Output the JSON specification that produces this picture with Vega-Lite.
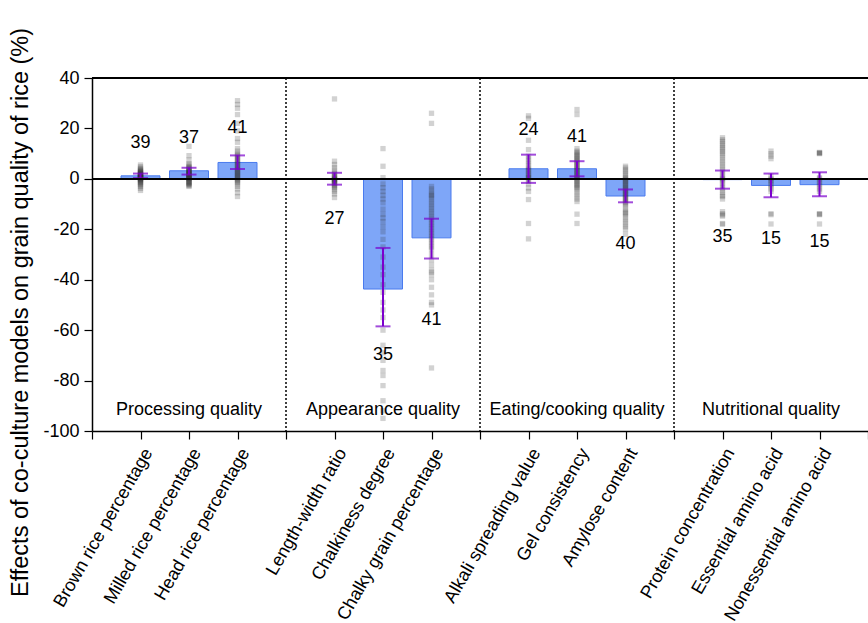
{
  "$schema": "https://vega.github.io/schema/vega-lite/v6.json",
  "autosize": {"type": "none"},
  "padding": {"left": 92, "top": 78, "right": 0, "bottom": 192},
  "width": 776,
  "height": 353,
  "background": "white",
  "config": {
    "view": {"stroke": null},
    "font": "Liberation Sans",
    "axis": {"grid": false, "domainColor": "#000", "tickColor": "#000", "labelColor": "#000", "titleColor": "#000", "labelFont": "Liberation Sans", "titleFont": "Liberation Sans", "domainWidth": 1.5, "tickWidth": 1.2}
  },
  "datasets": {
    "bars": [
      {"cat": "Brown rice percentage", "mean": 1.2, "lo": 0.3, "hi": 2.1, "n": 39, "ly": 14.3},
      {"cat": "Milled rice percentage", "mean": 3.2, "lo": 1.7, "hi": 4.4, "n": 37, "ly": 16.3},
      {"cat": "Head rice percentage", "mean": 6.5, "lo": 3.9, "hi": 9.3, "n": 41, "ly": 20.2},
      {"cat": "Length-width ratio", "mean": 0.0, "lo": -2.3, "hi": 2.4, "n": 27, "ly": -15.9},
      {"cat": "Chalkiness degree", "mean": -43.7, "lo": -58.5, "hi": -27.4, "n": 35, "ly": -70},
      {"cat": "Chalky grain percentage", "mean": -23.4, "lo": -31.6, "hi": -15.8, "n": 41, "ly": -56},
      {"cat": "Alkali spreading value", "mean": 4.0, "lo": -1.6, "hi": 9.6, "n": 24, "ly": 19.4},
      {"cat": "Gel consistency", "mean": 4.0, "lo": 1.0, "hi": 7.0, "n": 41, "ly": 16.7},
      {"cat": "Amylose content", "mean": -6.8, "lo": -9.3, "hi": -4.2, "n": 40, "ly": -26},
      {"cat": "Protein concentration", "mean": -0.3, "lo": -3.9, "hi": 3.3, "n": 35, "ly": -23},
      {"cat": "Essential amino acid", "mean": -2.6, "lo": -7.3, "hi": 2.1, "n": 15, "ly": -24},
      {"cat": "Nonessential amino acid", "mean": -2.3, "lo": -6.9, "hi": 2.6, "n": 15, "ly": -25}
    ],
    "groups": [
      {"cat": "Milled rice percentage", "label": "Processing quality"},
      {"cat": "Chalkiness degree", "label": "Appearance quality"},
      {"cat": "Gel consistency", "label": "Eating/cooking quality"},
      {"cat": "Essential amino acid", "label": "Nutritional quality"}
    ],
    "seps": [{"cat": "s1"}, {"cat": "s2"}, {"cat": "s3"}],
    "points": [
      {"cat": "Brown rice percentage", "v": 5.5}, {"cat": "Brown rice percentage", "v": 4.8}, {"cat": "Brown rice percentage", "v": 4.2}, {"cat": "Brown rice percentage", "v": 3.8}, {"cat": "Brown rice percentage", "v": 3.5}, {"cat": "Brown rice percentage", "v": 3.2}, {"cat": "Brown rice percentage", "v": 3.0}, {"cat": "Brown rice percentage", "v": 2.8}, {"cat": "Brown rice percentage", "v": 2.6}, {"cat": "Brown rice percentage", "v": 2.4},
      {"cat": "Brown rice percentage", "v": 2.2}, {"cat": "Brown rice percentage", "v": 2.0}, {"cat": "Brown rice percentage", "v": 1.9}, {"cat": "Brown rice percentage", "v": 1.8}, {"cat": "Brown rice percentage", "v": 1.6}, {"cat": "Brown rice percentage", "v": 1.5}, {"cat": "Brown rice percentage", "v": 1.4}, {"cat": "Brown rice percentage", "v": 1.2}, {"cat": "Brown rice percentage", "v": 1.1}, {"cat": "Brown rice percentage", "v": 1.0},
      {"cat": "Brown rice percentage", "v": 0.9}, {"cat": "Brown rice percentage", "v": 0.8}, {"cat": "Brown rice percentage", "v": 0.6}, {"cat": "Brown rice percentage", "v": 0.5}, {"cat": "Brown rice percentage", "v": 0.4}, {"cat": "Brown rice percentage", "v": 0.2}, {"cat": "Brown rice percentage", "v": 0.0}, {"cat": "Brown rice percentage", "v": -0.2}, {"cat": "Brown rice percentage", "v": -0.4}, {"cat": "Brown rice percentage", "v": -0.6},
      {"cat": "Brown rice percentage", "v": -0.9}, {"cat": "Brown rice percentage", "v": -1.2}, {"cat": "Brown rice percentage", "v": -1.5}, {"cat": "Brown rice percentage", "v": -1.8}, {"cat": "Brown rice percentage", "v": -2.2}, {"cat": "Brown rice percentage", "v": -2.6}, {"cat": "Brown rice percentage", "v": -3.0}, {"cat": "Brown rice percentage", "v": -3.8}, {"cat": "Brown rice percentage", "v": -4.6},

      {"cat": "Milled rice percentage", "v": 12.9}, {"cat": "Milled rice percentage", "v": 9.2}, {"cat": "Milled rice percentage", "v": 7.5}, {"cat": "Milled rice percentage", "v": 6.0}, {"cat": "Milled rice percentage", "v": 5.5}, {"cat": "Milled rice percentage", "v": 5.0}, {"cat": "Milled rice percentage", "v": 4.6}, {"cat": "Milled rice percentage", "v": 4.2}, {"cat": "Milled rice percentage", "v": 3.9}, {"cat": "Milled rice percentage", "v": 3.6},
      {"cat": "Milled rice percentage", "v": 3.3}, {"cat": "Milled rice percentage", "v": 3.0}, {"cat": "Milled rice percentage", "v": 2.8}, {"cat": "Milled rice percentage", "v": 2.6}, {"cat": "Milled rice percentage", "v": 2.4}, {"cat": "Milled rice percentage", "v": 2.2}, {"cat": "Milled rice percentage", "v": 2.0}, {"cat": "Milled rice percentage", "v": 1.8}, {"cat": "Milled rice percentage", "v": 1.6}, {"cat": "Milled rice percentage", "v": 1.4},
      {"cat": "Milled rice percentage", "v": 1.2}, {"cat": "Milled rice percentage", "v": 1.0}, {"cat": "Milled rice percentage", "v": 0.8}, {"cat": "Milled rice percentage", "v": 0.6}, {"cat": "Milled rice percentage", "v": 0.4}, {"cat": "Milled rice percentage", "v": 0.2}, {"cat": "Milled rice percentage", "v": 0.0}, {"cat": "Milled rice percentage", "v": -0.3}, {"cat": "Milled rice percentage", "v": -0.6}, {"cat": "Milled rice percentage", "v": -0.9},
      {"cat": "Milled rice percentage", "v": -1.2}, {"cat": "Milled rice percentage", "v": -1.5}, {"cat": "Milled rice percentage", "v": -1.8}, {"cat": "Milled rice percentage", "v": -2.1}, {"cat": "Milled rice percentage", "v": -2.4}, {"cat": "Milled rice percentage", "v": -2.7}, {"cat": "Milled rice percentage", "v": -3.0},

      {"cat": "Head rice percentage", "v": 31}, {"cat": "Head rice percentage", "v": 29.5}, {"cat": "Head rice percentage", "v": 28}, {"cat": "Head rice percentage", "v": 25.5}, {"cat": "Head rice percentage", "v": 22}, {"cat": "Head rice percentage", "v": 19}, {"cat": "Head rice percentage", "v": 16}, {"cat": "Head rice percentage", "v": 14.5}, {"cat": "Head rice percentage", "v": 12}, {"cat": "Head rice percentage", "v": 11},
      {"cat": "Head rice percentage", "v": 10}, {"cat": "Head rice percentage", "v": 9.5}, {"cat": "Head rice percentage", "v": 9}, {"cat": "Head rice percentage", "v": 8.5}, {"cat": "Head rice percentage", "v": 8}, {"cat": "Head rice percentage", "v": 7.5}, {"cat": "Head rice percentage", "v": 7}, {"cat": "Head rice percentage", "v": 6.5}, {"cat": "Head rice percentage", "v": 6}, {"cat": "Head rice percentage", "v": 5.5},
      {"cat": "Head rice percentage", "v": 5}, {"cat": "Head rice percentage", "v": 4.5}, {"cat": "Head rice percentage", "v": 4}, {"cat": "Head rice percentage", "v": 3.6}, {"cat": "Head rice percentage", "v": 3.2}, {"cat": "Head rice percentage", "v": 2.8}, {"cat": "Head rice percentage", "v": 2.4}, {"cat": "Head rice percentage", "v": 2}, {"cat": "Head rice percentage", "v": 1.6}, {"cat": "Head rice percentage", "v": 1.2},
      {"cat": "Head rice percentage", "v": 0.8}, {"cat": "Head rice percentage", "v": 0.4}, {"cat": "Head rice percentage", "v": 0}, {"cat": "Head rice percentage", "v": -0.5}, {"cat": "Head rice percentage", "v": -1}, {"cat": "Head rice percentage", "v": -1.5}, {"cat": "Head rice percentage", "v": -2}, {"cat": "Head rice percentage", "v": -3}, {"cat": "Head rice percentage", "v": -4}, {"cat": "Head rice percentage", "v": -5.5}, {"cat": "Head rice percentage", "v": -7},

      {"cat": "Length-width ratio", "v": 31.7}, {"cat": "Length-width ratio", "v": 7}, {"cat": "Length-width ratio", "v": 5.7}, {"cat": "Length-width ratio", "v": 4.5}, {"cat": "Length-width ratio", "v": 3.5}, {"cat": "Length-width ratio", "v": 2.5}, {"cat": "Length-width ratio", "v": 2}, {"cat": "Length-width ratio", "v": 1.5}, {"cat": "Length-width ratio", "v": 1}, {"cat": "Length-width ratio", "v": 0.6},
      {"cat": "Length-width ratio", "v": 0.3}, {"cat": "Length-width ratio", "v": 0}, {"cat": "Length-width ratio", "v": -0.2}, {"cat": "Length-width ratio", "v": -0.4}, {"cat": "Length-width ratio", "v": -0.6}, {"cat": "Length-width ratio", "v": -0.9}, {"cat": "Length-width ratio", "v": -1.2}, {"cat": "Length-width ratio", "v": -1.5}, {"cat": "Length-width ratio", "v": -1.8}, {"cat": "Length-width ratio", "v": -2.2},
      {"cat": "Length-width ratio", "v": -2.6}, {"cat": "Length-width ratio", "v": -3}, {"cat": "Length-width ratio", "v": -3.5}, {"cat": "Length-width ratio", "v": -4.2}, {"cat": "Length-width ratio", "v": -5}, {"cat": "Length-width ratio", "v": -6}, {"cat": "Length-width ratio", "v": -7.4},

      {"cat": "Chalkiness degree", "v": 12}, {"cat": "Chalkiness degree", "v": 5}, {"cat": "Chalkiness degree", "v": 0.5}, {"cat": "Chalkiness degree", "v": -2}, {"cat": "Chalkiness degree", "v": -3.5}, {"cat": "Chalkiness degree", "v": -5}, {"cat": "Chalkiness degree", "v": -6.5}, {"cat": "Chalkiness degree", "v": -8}, {"cat": "Chalkiness degree", "v": -9.5}, {"cat": "Chalkiness degree", "v": -12},
      {"cat": "Chalkiness degree", "v": -14}, {"cat": "Chalkiness degree", "v": -15.5}, {"cat": "Chalkiness degree", "v": -17}, {"cat": "Chalkiness degree", "v": -19}, {"cat": "Chalkiness degree", "v": -21}, {"cat": "Chalkiness degree", "v": -24}, {"cat": "Chalkiness degree", "v": -27}, {"cat": "Chalkiness degree", "v": -31}, {"cat": "Chalkiness degree", "v": -35}, {"cat": "Chalkiness degree", "v": -38},
      {"cat": "Chalkiness degree", "v": -42}, {"cat": "Chalkiness degree", "v": -45}, {"cat": "Chalkiness degree", "v": -49}, {"cat": "Chalkiness degree", "v": -52}, {"cat": "Chalkiness degree", "v": -55}, {"cat": "Chalkiness degree", "v": -60}, {"cat": "Chalkiness degree", "v": -66}, {"cat": "Chalkiness degree", "v": -69}, {"cat": "Chalkiness degree", "v": -72}, {"cat": "Chalkiness degree", "v": -76},
      {"cat": "Chalkiness degree", "v": -78}, {"cat": "Chalkiness degree", "v": -82}, {"cat": "Chalkiness degree", "v": -88}, {"cat": "Chalkiness degree", "v": -92}, {"cat": "Chalkiness degree", "v": -95},

      {"cat": "Chalky grain percentage", "v": 26}, {"cat": "Chalky grain percentage", "v": 22}, {"cat": "Chalky grain percentage", "v": -3}, {"cat": "Chalky grain percentage", "v": -4}, {"cat": "Chalky grain percentage", "v": -5}, {"cat": "Chalky grain percentage", "v": -6}, {"cat": "Chalky grain percentage", "v": -6.5}, {"cat": "Chalky grain percentage", "v": -7}, {"cat": "Chalky grain percentage", "v": -8}, {"cat": "Chalky grain percentage", "v": -9},
      {"cat": "Chalky grain percentage", "v": -10}, {"cat": "Chalky grain percentage", "v": -11}, {"cat": "Chalky grain percentage", "v": -12}, {"cat": "Chalky grain percentage", "v": -13}, {"cat": "Chalky grain percentage", "v": -14}, {"cat": "Chalky grain percentage", "v": -15}, {"cat": "Chalky grain percentage", "v": -16}, {"cat": "Chalky grain percentage", "v": -17}, {"cat": "Chalky grain percentage", "v": -18}, {"cat": "Chalky grain percentage", "v": -19},
      {"cat": "Chalky grain percentage", "v": -20}, {"cat": "Chalky grain percentage", "v": -21}, {"cat": "Chalky grain percentage", "v": -22}, {"cat": "Chalky grain percentage", "v": -23}, {"cat": "Chalky grain percentage", "v": -24}, {"cat": "Chalky grain percentage", "v": -25}, {"cat": "Chalky grain percentage", "v": -26}, {"cat": "Chalky grain percentage", "v": -27}, {"cat": "Chalky grain percentage", "v": -28}, {"cat": "Chalky grain percentage", "v": -30},
      {"cat": "Chalky grain percentage", "v": -32}, {"cat": "Chalky grain percentage", "v": -34}, {"cat": "Chalky grain percentage", "v": -36}, {"cat": "Chalky grain percentage", "v": -37}, {"cat": "Chalky grain percentage", "v": -38}, {"cat": "Chalky grain percentage", "v": -40}, {"cat": "Chalky grain percentage", "v": -43}, {"cat": "Chalky grain percentage", "v": -46}, {"cat": "Chalky grain percentage", "v": -49}, {"cat": "Chalky grain percentage", "v": -50}, {"cat": "Chalky grain percentage", "v": -75},

      {"cat": "Alkali spreading value", "v": 25}, {"cat": "Alkali spreading value", "v": 24}, {"cat": "Alkali spreading value", "v": 15.3}, {"cat": "Alkali spreading value", "v": 11.6}, {"cat": "Alkali spreading value", "v": 9}, {"cat": "Alkali spreading value", "v": 8}, {"cat": "Alkali spreading value", "v": 7}, {"cat": "Alkali spreading value", "v": 6}, {"cat": "Alkali spreading value", "v": 5}, {"cat": "Alkali spreading value", "v": 4},
      {"cat": "Alkali spreading value", "v": 3.5}, {"cat": "Alkali spreading value", "v": 3}, {"cat": "Alkali spreading value", "v": 2}, {"cat": "Alkali spreading value", "v": 1.5}, {"cat": "Alkali spreading value", "v": 1}, {"cat": "Alkali spreading value", "v": 0.5}, {"cat": "Alkali spreading value", "v": 0}, {"cat": "Alkali spreading value", "v": -1}, {"cat": "Alkali spreading value", "v": -2}, {"cat": "Alkali spreading value", "v": -3.6},
      {"cat": "Alkali spreading value", "v": -5}, {"cat": "Alkali spreading value", "v": -8.2}, {"cat": "Alkali spreading value", "v": -17.7}, {"cat": "Alkali spreading value", "v": -23.8},

      {"cat": "Gel consistency", "v": 27.5}, {"cat": "Gel consistency", "v": 25.5}, {"cat": "Gel consistency", "v": 12}, {"cat": "Gel consistency", "v": 11}, {"cat": "Gel consistency", "v": 10.5}, {"cat": "Gel consistency", "v": 10}, {"cat": "Gel consistency", "v": 9.5}, {"cat": "Gel consistency", "v": 9}, {"cat": "Gel consistency", "v": 8.5}, {"cat": "Gel consistency", "v": 8},
      {"cat": "Gel consistency", "v": 7.5}, {"cat": "Gel consistency", "v": 7}, {"cat": "Gel consistency", "v": 6.5}, {"cat": "Gel consistency", "v": 6}, {"cat": "Gel consistency", "v": 5.5}, {"cat": "Gel consistency", "v": 5}, {"cat": "Gel consistency", "v": 4.5}, {"cat": "Gel consistency", "v": 4}, {"cat": "Gel consistency", "v": 3.5}, {"cat": "Gel consistency", "v": 3},
      {"cat": "Gel consistency", "v": 2.5}, {"cat": "Gel consistency", "v": 2}, {"cat": "Gel consistency", "v": 1.5}, {"cat": "Gel consistency", "v": 1}, {"cat": "Gel consistency", "v": 0.5}, {"cat": "Gel consistency", "v": 0}, {"cat": "Gel consistency", "v": -0.5}, {"cat": "Gel consistency", "v": -1}, {"cat": "Gel consistency", "v": -1.5}, {"cat": "Gel consistency", "v": -2},
      {"cat": "Gel consistency", "v": -2.5}, {"cat": "Gel consistency", "v": -3}, {"cat": "Gel consistency", "v": -3.5}, {"cat": "Gel consistency", "v": -4}, {"cat": "Gel consistency", "v": -5}, {"cat": "Gel consistency", "v": -6}, {"cat": "Gel consistency", "v": -7}, {"cat": "Gel consistency", "v": -8}, {"cat": "Gel consistency", "v": -9}, {"cat": "Gel consistency", "v": -14}, {"cat": "Gel consistency", "v": -17.7},

      {"cat": "Amylose content", "v": 5}, {"cat": "Amylose content", "v": 4.3}, {"cat": "Amylose content", "v": 3.5}, {"cat": "Amylose content", "v": 2.8}, {"cat": "Amylose content", "v": 2}, {"cat": "Amylose content", "v": 1.2}, {"cat": "Amylose content", "v": 0.5}, {"cat": "Amylose content", "v": 0}, {"cat": "Amylose content", "v": -0.5}, {"cat": "Amylose content", "v": -1},
      {"cat": "Amylose content", "v": -1.5}, {"cat": "Amylose content", "v": -2}, {"cat": "Amylose content", "v": -2.5}, {"cat": "Amylose content", "v": -3}, {"cat": "Amylose content", "v": -3.5}, {"cat": "Amylose content", "v": -4}, {"cat": "Amylose content", "v": -4.5}, {"cat": "Amylose content", "v": -5}, {"cat": "Amylose content", "v": -5.5}, {"cat": "Amylose content", "v": -6},
      {"cat": "Amylose content", "v": -6.5}, {"cat": "Amylose content", "v": -7}, {"cat": "Amylose content", "v": -7.5}, {"cat": "Amylose content", "v": -8}, {"cat": "Amylose content", "v": -8.5}, {"cat": "Amylose content", "v": -9}, {"cat": "Amylose content", "v": -9.5}, {"cat": "Amylose content", "v": -10}, {"cat": "Amylose content", "v": -11}, {"cat": "Amylose content", "v": -12},
      {"cat": "Amylose content", "v": -13}, {"cat": "Amylose content", "v": -13.5}, {"cat": "Amylose content", "v": -14}, {"cat": "Amylose content", "v": -15}, {"cat": "Amylose content", "v": -16}, {"cat": "Amylose content", "v": -17}, {"cat": "Amylose content", "v": -18}, {"cat": "Amylose content", "v": -19}, {"cat": "Amylose content", "v": -20}, {"cat": "Amylose content", "v": -22},

      {"cat": "Protein concentration", "v": 16.3}, {"cat": "Protein concentration", "v": 15.5}, {"cat": "Protein concentration", "v": 14.8}, {"cat": "Protein concentration", "v": 14}, {"cat": "Protein concentration", "v": 13.3}, {"cat": "Protein concentration", "v": 12.5}, {"cat": "Protein concentration", "v": 11.8}, {"cat": "Protein concentration", "v": 11}, {"cat": "Protein concentration", "v": 10.3}, {"cat": "Protein concentration", "v": 9.5},
      {"cat": "Protein concentration", "v": 8.5}, {"cat": "Protein concentration", "v": 7.5}, {"cat": "Protein concentration", "v": 6.5}, {"cat": "Protein concentration", "v": 5.5}, {"cat": "Protein concentration", "v": 4.5}, {"cat": "Protein concentration", "v": 3.5}, {"cat": "Protein concentration", "v": 2.5}, {"cat": "Protein concentration", "v": 1.5}, {"cat": "Protein concentration", "v": 0.5}, {"cat": "Protein concentration", "v": 0},
      {"cat": "Protein concentration", "v": -0.5}, {"cat": "Protein concentration", "v": -1.5}, {"cat": "Protein concentration", "v": -2.5}, {"cat": "Protein concentration", "v": -3.5}, {"cat": "Protein concentration", "v": -4.5}, {"cat": "Protein concentration", "v": -5.5}, {"cat": "Protein concentration", "v": -6.5}, {"cat": "Protein concentration", "v": -7}, {"cat": "Protein concentration", "v": -8},
      {"cat": "Protein concentration", "v": -13}, {"cat": "Protein concentration", "v": -13.8}, {"cat": "Protein concentration", "v": -14.3}, {"cat": "Protein concentration", "v": -14.8}, {"cat": "Protein concentration", "v": -17.7}, {"cat": "Protein concentration", "v": -18},

      {"cat": "Essential amino acid", "v": 11}, {"cat": "Essential amino acid", "v": 10}, {"cat": "Essential amino acid", "v": 9}, {"cat": "Essential amino acid", "v": 8}, {"cat": "Essential amino acid", "v": 1}, {"cat": "Essential amino acid", "v": 0}, {"cat": "Essential amino acid", "v": -0.5}, {"cat": "Essential amino acid", "v": -1}, {"cat": "Essential amino acid", "v": -2.3}, {"cat": "Essential amino acid", "v": -3},
      {"cat": "Essential amino acid", "v": -4}, {"cat": "Essential amino acid", "v": -5}, {"cat": "Essential amino acid", "v": -13.8}, {"cat": "Essential amino acid", "v": -14.2}, {"cat": "Essential amino acid", "v": -17.9},

      {"cat": "Nonessential amino acid", "v": 10.5}, {"cat": "Nonessential amino acid", "v": 10.3}, {"cat": "Nonessential amino acid", "v": 10}, {"cat": "Nonessential amino acid", "v": 10.2}, {"cat": "Nonessential amino acid", "v": 0.5}, {"cat": "Nonessential amino acid", "v": 0}, {"cat": "Nonessential amino acid", "v": -1}, {"cat": "Nonessential amino acid", "v": -2}, {"cat": "Nonessential amino acid", "v": -3}, {"cat": "Nonessential amino acid", "v": -4},
      {"cat": "Nonessential amino acid", "v": -5}, {"cat": "Nonessential amino acid", "v": -13.8}, {"cat": "Nonessential amino acid", "v": -14}, {"cat": "Nonessential amino acid", "v": -14.2}, {"cat": "Nonessential amino acid", "v": -17.9}
    ]
  },
  "encoding": {
    "x": {
      "field": "cat", "type": "nominal",
      "scale": {"type": "point", "padding": 0, "domain": ["e0", "Brown rice percentage", "Milled rice percentage", "Head rice percentage", "s1", "Length-width ratio", "Chalkiness degree", "Chalky grain percentage", "s2", "Alkali spreading value", "Gel consistency", "Amylose content", "s3", "Protein concentration", "Essential amino acid", "Nonessential amino acid", "e4"]},
      "axis": {"title": null, "labelAngle": -60, "labelFontSize": 18, "labelAlign": "right", "labelBaseline": "top", "labelExpr": "length(datum.label) < 3 ? '' : datum.label", "tickSize": 8, "labelPadding": 6, "labelOverlap": false, "labelBound": false, "labelLimit": 0}
    }
  },
  "layer": [
    {
      "data": {"name": "bars"},
      "mark": {"type": "bar", "size": 39, "fill": "#7ea6f8", "stroke": "#4a7bee", "strokeWidth": 1},
      "encoding": {
        "y": {"field": "mean", "type": "quantitative",
          "scale": {"domain": [-100, 40], "nice": false},
          "axis": {"title": "Effects of co-culture models on grain quality of rice (%)", "titleFontSize": 23.5, "titleFontWeight": "normal", "titleAngle": -90, "titleX": -72, "titleY": 234, "titleAlign": "center", "titleBaseline": "middle", "values": [-100, -80, -60, -40, -20, 0, 20, 40], "labelFontSize": 18, "labelExpr": "'' + datum.value", "tickSize": 8, "labelPadding": 5}
        }
      }
    },
    {
      "data": {"name": "seps"},
      "mark": {"type": "rule", "stroke": "#000", "strokeWidth": 1.5, "strokeDash": [2, 2]},
      "encoding": {}
    },
    {
      "data": {"name": "points"},
      "mark": {"type": "square", "size": 28, "color": "#333", "opacity": 0.22},
      "encoding": {"y": {"field": "v", "type": "quantitative"}}
    },
    {
      "data": {"name": "bars"},
      "mark": {"type": "rule", "stroke": "#7b00cc", "strokeWidth": 2},
      "encoding": {"y": {"field": "lo", "type": "quantitative"}, "y2": {"field": "hi"}}
    },
    {
      "data": {"name": "bars"},
      "mark": {"type": "tick", "color": "#7b00cc", "size": 15, "thickness": 2, "orient": "horizontal"},
      "encoding": {"y": {"field": "lo", "type": "quantitative"}}
    },
    {
      "data": {"name": "bars"},
      "mark": {"type": "tick", "color": "#7b00cc", "size": 15, "thickness": 2, "orient": "horizontal"},
      "encoding": {"y": {"field": "hi", "type": "quantitative"}}
    },
    {
      "data": {"name": "bars"},
      "mark": {"type": "rule", "stroke": "#000", "strokeWidth": 1.5},
      "encoding": {"x": {"value": 0}, "x2": {"value": 776}, "y": {"datum": 0}}
    },
    {
      "data": {"name": "bars"},
      "mark": {"type": "rule", "stroke": "#000", "strokeWidth": 2},
      "encoding": {"x": {"value": 0}, "x2": {"value": 776}, "y": {"datum": 40}}
    },
    {
      "data": {"name": "bars"},
      "mark": {"type": "text", "fontSize": 18, "baseline": "middle", "align": "center", "color": "#000"},
      "encoding": {"y": {"field": "ly", "type": "quantitative"}, "text": {"field": "n"}}
    },
    {
      "data": {"name": "groups"},
      "mark": {"type": "text", "fontSize": 18, "baseline": "middle", "align": "center", "color": "#000"},
      "encoding": {"y": {"datum": -91.5}, "text": {"field": "label"}}
    }
  ]
}
